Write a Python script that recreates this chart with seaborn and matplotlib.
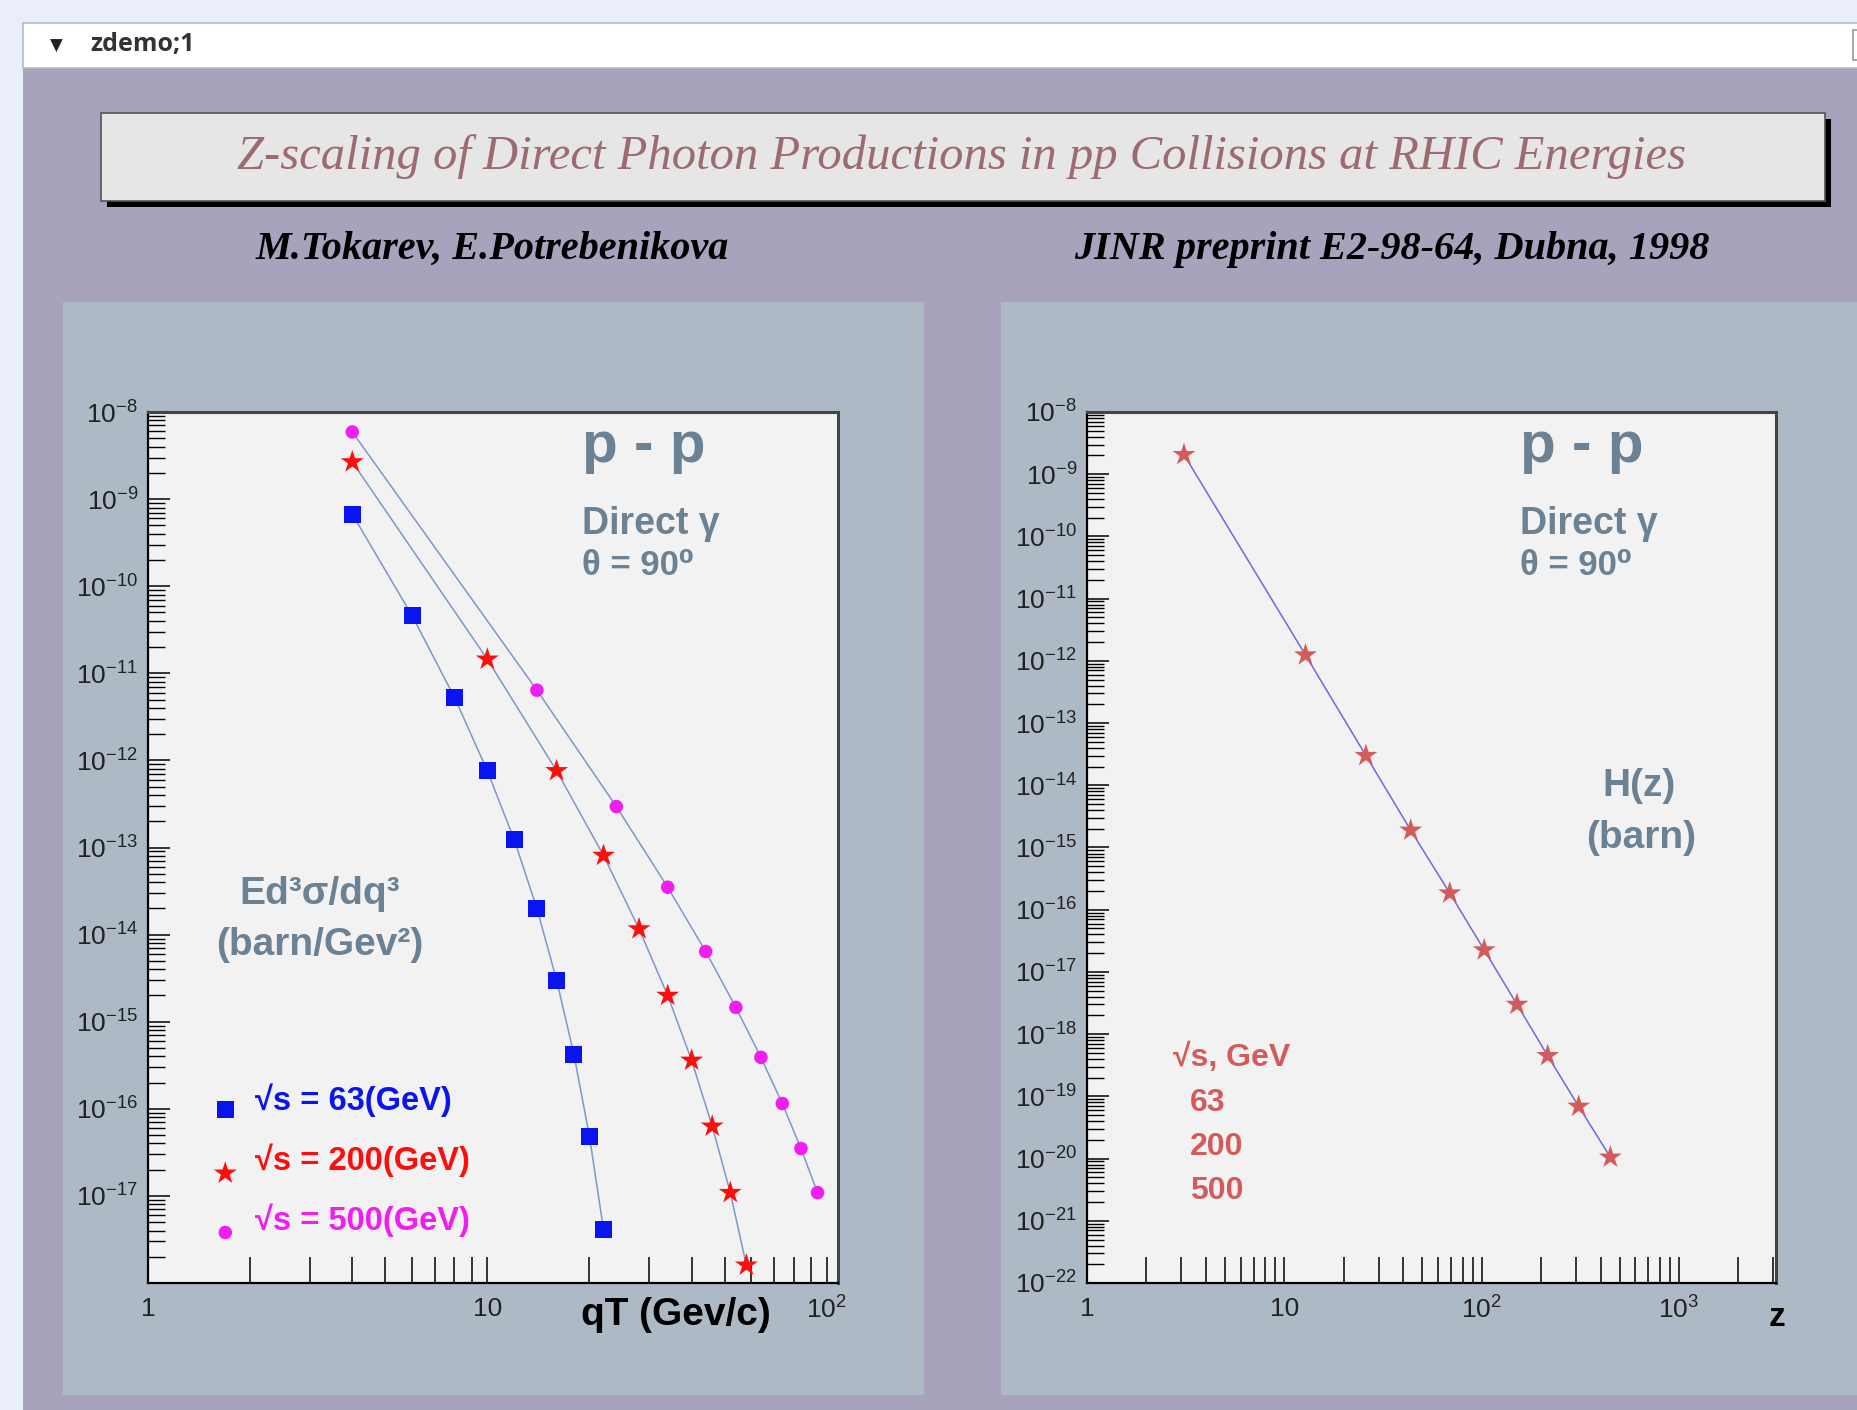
import numpy as np
import pandas as pd
import seaborn as sns
import matplotlib
matplotlib.use("Agg")
import matplotlib.pyplot as plt
from matplotlib.patches import Rectangle
from matplotlib.ticker import FixedLocator, FixedFormatter, LogLocator, NullFormatter

# ---- data ----
qt_63 = [4, 6, 8, 10, 12, 14, 16, 18, 20, 22]
sig_63 = [6.7e-10, 4.6e-11, 5.3e-12, 7.6e-13, 1.23e-13, 2.0e-14, 3.0e-15, 4.2e-16, 4.8e-17, 4.1e-18]

qt_200 = [4, 10, 16, 22, 28, 34, 40, 46, 52, 58]
sig_200 = [2.67e-9, 1.45e-11, 7.6e-13, 8.1e-14, 1.16e-14, 2.0e-15, 3.6e-16, 6.3e-17, 1.09e-17, 1.6e-18]

qt_500 = [4, 14, 24, 34, 44, 54, 64, 74, 84, 94]
sig_500 = [5.9e-9, 6.4e-12, 2.95e-13, 3.5e-14, 6.4e-15, 1.46e-15, 3.9e-16, 1.15e-16, 3.5e-17, 1.09e-17]

z_vals = [3.1, 12.8, 25.9, 43.7, 68.9, 103, 151, 216, 310, 449]
h_vals = [2.06e-9, 1.24e-12, 3.0e-14, 1.89e-15, 1.85e-16, 2.25e-17, 3.0e-18, 4.5e-19, 6.9e-20, 1.05e-20]

energies = ["63", "200", "500"]
legend_labels = ["√s = 63(GeV)", "√s = 200(GeV)", "√s = 500(GeV)"]

W, H = 1858, 1410
DPI = 100

sns.set_style("white")
plt.rcParams["font.family"] = ["Liberation Sans", "DejaVu Sans"]
plt.rcParams["mathtext.default"] = "regular"

TXT = "#6b8295"
STAR = "#d45b5b"


def box(x0, y0, x1, y1):
    # pixel box (top-left origin) -> figure fraction rect
    return [x0 / W, 1 - y1 / H, (x1 - x0) / W, (y1 - y0) / H]


def rect(fig, x0, y0, x1, y1, **kw):
    l, b, w, h = box(x0, y0, x1, y1)
    r = Rectangle((l, b), w, h, transform=fig.transFigure, zorder=kw.pop("zorder", -10), **kw)
    fig.add_artist(r)
    return r


fig = plt.figure(figsize=(W / DPI, H / DPI), dpi=DPI, facecolor="#e9eefa")

# canvas background, header bar, title box
rect(fig, 23, 68, W, H, facecolor="#a7a3bd", edgecolor="none")
rect(fig, 23, 23, W + 5, 68, facecolor="white", edgecolor="#b9b9c4", lw=1.2)
rect(fig, 1853, 30, W + 10, 60, facecolor="white", edgecolor="#999999", lw=1.2, zorder=-9)
fig.text(56 / W, 1 - 46 / H, "▼", fontsize=12, color="#222222", ha="center", va="center",
         family=["DejaVu Sans"])
fig.text(90 / W, 1 - 45 / H, "zdemo;1", fontsize=18, color="#333333", ha="left", va="center",
         family=["Open Sans", "DejaVu Sans"], weight="bold")

rect(fig, 107, 119, 1831, 207, facecolor="black", edgecolor="none", zorder=-9)
rect(fig, 101, 113, 1825, 201, facecolor="#e6e6e6", edgecolor="#555555", lw=1.2, zorder=-8)
fig.text(962 / W, 1 - 157 / H,
         "Z-scaling of Direct Photon Productions in pp Collisions at RHIC Energies",
         fontsize=35, color="#9c6b70", style="italic", ha="center", va="center",
         family=["Liberation Serif", "DejaVu Serif"])
fig.text(492 / W, 1 - 249 / H, "M.Tokarev, E.Potrebenikova", fontsize=29, color="black",
         style="italic", weight="bold", ha="center", va="center",
         family=["Liberation Serif", "DejaVu Serif"])
fig.text(1392 / W, 1 - 249 / H, "JINR preprint E2-98-64, Dubna, 1998", fontsize=29, color="black",
         style="italic", weight="bold", ha="center", va="center",
         family=["Liberation Serif", "DejaVu Serif"])

# pads
rect(fig, 63, 302, 924, 1395, facecolor="#adbac6", edgecolor="none", zorder=-7)
rect(fig, 1001, 302, W + 5, 1395, facecolor="#adbac6", edgecolor="none", zorder=-7)


def style_axes(ax, xlim, ylim, xmajor, xlabels, ymajor, ylabels):
    ax.set_facecolor("#f2f2f2")
    ax.set_xscale("log")
    ax.set_yscale("log")
    ax.set_xlim(*xlim)
    ax.set_ylim(*ylim)
    ax.xaxis.set_major_locator(FixedLocator(xmajor))
    ax.xaxis.set_major_formatter(FixedFormatter(xlabels))
    ax.xaxis.set_minor_locator(LogLocator(base=10, subs=np.arange(2, 10), numticks=100))
    ax.xaxis.set_minor_formatter(NullFormatter())
    ax.yaxis.set_major_locator(FixedLocator(ymajor))
    ax.yaxis.set_major_formatter(FixedFormatter(ylabels))
    ax.yaxis.set_minor_locator(LogLocator(base=10, subs=np.arange(2, 10), numticks=100))
    ax.yaxis.set_minor_formatter(NullFormatter())
    ax.tick_params(axis="x", which="both", direction="in", length=19, width=1.1, color="black",
                   bottom=True, top=False, labelsize=19, pad=10, labelcolor="#222222")
    ax.tick_params(axis="y", which="major", direction="in", length=16, width=1.1, color="black",
                   left=True, right=False, labelsize=19, pad=7, labelcolor="#222222")
    ax.tick_params(axis="y", which="minor", direction="in", length=12, width=1.0, color="black",
                   left=True, right=False)
    for s in ["left", "bottom"]:
        ax.spines[s].set_color("black")
        ax.spines[s].set_linewidth(1.6)
    for s in ["top", "right"]:
        ax.spines[s].set_color("#444444")
        ax.spines[s].set_linewidth(2.2)
    ax.set_xlabel("")
    ax.set_ylabel("")


# ---- left plot ----
ax1 = fig.add_axes(box(148, 412, 838, 1283))
df = pd.concat([
    pd.DataFrame({"qT": qt_63, "sigma": sig_63, "energy": "63"}),
    pd.DataFrame({"qT": qt_200, "sigma": sig_200, "energy": "200"}),
    pd.DataFrame({"qT": qt_500, "sigma": sig_500, "energy": "500"}),
])
sns.lineplot(data=df, x="qT", y="sigma", units="energy", estimator=None, sort=False,
             color="#7d98c8", lw=1.1, ax=ax1, legend=False)
mk = {"63": ("s", "#0a14f0", 150), "200": ("*", "#ff0d0d", 300), "500": ("o", "#f01ef0", 95)}
for e in energies:
    m, c, s = mk[e]
    sns.scatterplot(data=df[df["energy"] == e], x="qT", y="sigma", marker=m, color=c, s=s,
                    edgecolor="none", ax=ax1, legend=False, zorder=5)

style_axes(ax1, (1, 108), (1e-18, 1e-8), [1, 10, 100], ["1", "10", "$10^{2}$"],
           [10.0 ** k for k in range(-18, -7)],
           [""] + ["$10^{%d}$" % k for k in range(-17, -7)])

ax1.text(0.629, 0.943, "p - p", transform=ax1.transAxes, fontsize=42, weight="bold", color=TXT)
ax1.text(0.629, 0.860, "Direct γ", transform=ax1.transAxes, fontsize=27, weight="bold", color=TXT)
ax1.text(0.629, 0.813, "θ = 90⁰", transform=ax1.transAxes, fontsize=25, weight="bold", color=TXT)
ax1.text(0.249, 0.435, "Ed³σ/dq³", transform=ax1.transAxes, fontsize=28, weight="bold",
         color=TXT, ha="center")
ax1.text(0.249, 0.377, "(barn/Gev²)", transform=ax1.transAxes, fontsize=28, weight="bold",
         color=TXT, ha="center")

leg_y = [0.199, 0.126, 0.058]
txt_y = [0.210, 0.141, 0.072]
for e, lab, my, ty in zip(energies, legend_labels, leg_y, txt_y):
    m, c, s = mk[e]
    ax1.scatter([0.112], [my], marker=m, color=c, s=s, transform=ax1.transAxes,
                edgecolor="none", clip_on=False, zorder=6)
    ax1.text(0.155, ty, lab, transform=ax1.transAxes, fontsize=23.5, weight="bold",
             color=c, va="center")

ax1.text(0.627, -0.037, "qT (Gev/c)", transform=ax1.transAxes, fontsize=28, weight="bold",
         color="black", va="center")

# ---- right plot ----
ax2 = fig.add_axes(box(1087, 412, 1776, 1283))
dfz = pd.DataFrame({"z": z_vals, "H": h_vals})
sns.lineplot(data=dfz, x="z", y="H", sort=False, color="#6b6bdf", lw=1.1, ax=ax2, legend=False)
sns.scatterplot(data=dfz, x="z", y="H", marker="*", color=STAR, s=300, edgecolor="none",
                ax=ax2, legend=False, zorder=5)
style_axes(ax2, (1, 3100), (1e-22, 1e-8), [1, 10, 100, 1000],
           ["1", "10", "$10^{2}$", "$10^{3}$"],
           [10.0 ** k for k in range(-22, -7)],
           ["$10^{%d}$" % k for k in range(-22, -7)])

ax2.text(0.628, 0.943, "p - p", transform=ax2.transAxes, fontsize=42, weight="bold", color=TXT)
ax2.text(0.628, 0.860, "Direct γ", transform=ax2.transAxes, fontsize=27, weight="bold", color=TXT)
ax2.text(0.628, 0.813, "θ = 90⁰", transform=ax2.transAxes, fontsize=25, weight="bold", color=TXT)
ax2.text(0.801, 0.559, "H(z)", transform=ax2.transAxes, fontsize=28, weight="bold",
         color=TXT, ha="center")
ax2.text(0.804, 0.499, "(barn)", transform=ax2.transAxes, fontsize=28, weight="bold",
         color=TXT, ha="center")

ax2.text(0.125, 0.249, "√s, GeV", transform=ax2.transAxes, fontsize=23, weight="bold", color=STAR)
for e, y in zip(energies, [0.197, 0.147, 0.096]):
    ax2.text(0.149, y, e, transform=ax2.transAxes, fontsize=23, weight="bold", color=STAR)

ax2.text(0.99, -0.04, "z", transform=ax2.transAxes, fontsize=24, weight="bold",
         color="black", va="center")

fig.savefig("out.png", dpi=DPI, facecolor=fig.get_facecolor())
